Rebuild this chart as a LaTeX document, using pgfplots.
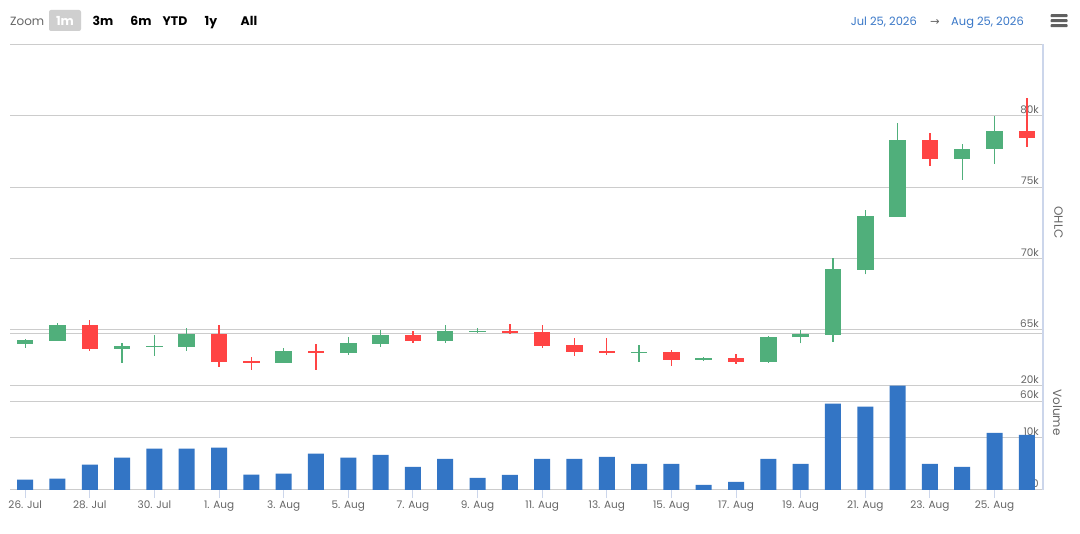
\documentclass[border=0pt]{standalone}
\usepackage{fontspec}
\setmainfont{Poppins}
\newfontfamily\dejavu{DejaVu Sans}
\usepackage{pgfplots}
\usepackage{pgfplotstable}
\pgfplotsset{compat=1.18}
\definecolor{upc}{HTML}{50AF7B}
\definecolor{dnc}{HTML}{FF4444}
\definecolor{volc}{HTML}{3375C5}
\definecolor{gridc}{HTML}{CCCCCC}
\definecolor{axc}{HTML}{CCD6EB}
\definecolor{txt}{HTML}{666666}
\definecolor{datec}{HTML}{3A78C8}
\definecolor{btn}{HTML}{CFCFCF}
\definecolor{menuc}{HTML}{606060}

\pgfplotstableread{
x open high low close
0 64040 64370 63760 64300
1 64250 65490 64250 65350
3 63690 64090 62710 63880
4 63830 64650 63200 63900
5 63830 65140 63550 64720
8 62710 63740 62710 63530
10 63410 64510 63270 64090
11 64040 65000 63830 64650
13 64250 65350 64110 64930
14 64860 65140 64790 64930
19 63410 63950 62780 63460
21 62920 63110 62850 63040
23 62780 64580 62710 64510
24 64480 64990 64060 64710
25 64660 70020 64170 69270
26 69220 73410 68900 72990
27 72940 79510 72940 78320
29 77000 78040 75530 77690
30 77710 80000 76660 78950
}\upt

\pgfplotstableread{
x open high low close
2 65350 65700 63550 63690
6 64720 65350 62430 62780
7 62830 63110 62220 62710
9 63530 64020 62220 63410
12 64650 64930 64110 64250
15 64930 65420 64720 64790
16 64860 65350 63760 63900
17 63950 64440 63200 63480
18 63530 64440 63270 63410
20 63460 63600 62500 62920
22 63040 63320 62640 62780
28 78320 78810 76510 77000
31 78950 81260 77850 78480
}\dnt

\pgfplotstableread{
x v
0 1980
1 2170
2 4870
3 6210
4 7940
5 7940
6 8130
7 2940
8 3130
9 6980
10 6180
11 6730
12 4420
13 5960
14 2310
15 2880
16 5960
17 5960
18 6350
19 5000
20 5000
21 960
22 1540
23 5960
24 5000
25 16540
26 15960
27 20000
28 5000
29 4420
30 10960
31 10580
}\volt

\pgfplotsset{
  common/.style={
    scale only axis, width=1033bp,
    xmin=-0.47, xmax=31.5,
    axis line style={draw=none},
    grid style={draw=gridc, line width=1bp},
    ytick style={draw=none},
    scaled y ticks=false,
    yticklabel pos=right,
    yticklabel style={anchor=base east, inner sep=0pt, xshift=-4bp, yshift=2.5bp,
      font=\fontsize{10.5}{12}\selectfont, text=txt},
  },
  wick/.style={forget plot, draw=none, no markers,
    error bars/.cd, y dir=plus, y explicit, error mark=none,
    error bar style={draw=#1, line width=1.3bp, solid}},
  body/.style={forget plot, draw=none, no markers,
    error bars/.cd, y dir=plus, y explicit, error mark=none,
    error bar style={draw=#1, line width=16.5bp, solid}},
}

\begin{document}
\begin{tikzpicture}
\fill[white] (0bp,0bp) rectangle (1080bp,534bp);

% volume grid + x axis
\begin{axis}[common, at={(10bp,44bp)}, anchor=south west, height=156.6bp,
  ymin=0, ymax=30000,
  ytick={0,10000,20000,30000}, yticklabels={}, ymajorgrids,
  xtick={0,2,...,30},
  xticklabels={26. Jul,28. Jul,30. Jul,1. Aug,3. Aug,5. Aug,7. Aug,9. Aug,11. Aug,13. Aug,15. Aug,17. Aug,19. Aug,21. Aug,23. Aug,25. Aug},
  xtick pos=lower, tick align=outside, major tick length=8bp,
  xtick style={draw=axc, line width=1bp},
  xticklabel style={font=\fontsize{10.5}{12}\selectfont, text=txt, inner sep=3bp},
]
\addplot[draw=none, no markers, forget plot] coordinates {(0,0)};
\end{axis}

% OHLC
\begin{axis}[common, at={(10bp,132.67bp)}, anchor=south west, height=356.67bp,
  ymin=60000, ymax=85000,
  ytick={60000,65000,70000,75000,80000,85000}, yticklabels={60k,65k,70k,75k,80k,{}}, ymajorgrids,
  xtick=\empty,
]
\addplot[wick=upc] table[x=x, y=low, y error expr=\thisrow{high}-\thisrow{low}] {\upt};
\addplot[wick=dnc] table[x=x, y=low, y error expr=\thisrow{high}-\thisrow{low}] {\dnt};
\addplot[body=upc] table[x=x, y=open, y error expr=\thisrow{close}-\thisrow{open}] {\upt};
\addplot[body=dnc] table[x=x, y=close, y error expr=\thisrow{open}-\thisrow{close}] {\dnt};
\end{axis}

% volume bars (tick labels drawn on top of the bars)
\begin{axis}[common, at={(10bp,44bp)}, anchor=south west, height=156.6bp,
  ymin=0, ymax=30000,
  ytick={0,10000,20000,30000}, yticklabels={0,10k,20k,{}},
  xtick=\empty]
\addplot[ybar, bar width=16bp, bar shift=0pt, fill=volc, draw=none]
  table[x=x, y=v] {\volt};
\end{axis}

% right axis line
\draw[axc, line width=2bp] (1043bp,44bp) -- (1043bp,489.5bp);

% axis titles
\node[rotate=-90, text=txt, font=\fontsize{12}{14}\selectfont] at (1058.5bp,311.5bp) {OHLC};
\node[rotate=-90, text=txt, font=\fontsize{12}{14}\selectfont] at (1057.5bp,121.5bp) {Volume};

% range selector
\node[anchor=base west, inner sep=0pt, text=txt, font=\fontsize{12}{14}\selectfont] at (10bp,508bp) {Zoom};
\fill[btn, rounded corners=2bp] (49bp,503bp) rectangle (81bp,524bp);
\node[anchor=base, inner sep=0pt, text=white, font=\fontsize{12.5}{14}\selectfont\bfseries] at (65bp,508bp) {1m};
\node[anchor=base, inner sep=0pt, text=black, font=\fontsize{12.5}{14}\selectfont\bfseries] at (103bp,508bp) {3m};
\node[anchor=base, inner sep=0pt, text=black, font=\fontsize{12.5}{14}\selectfont\bfseries] at (141bp,508bp) {6m};
\node[anchor=base, inner sep=0pt, text=black, font=\fontsize{12.5}{14}\selectfont\bfseries] at (175bp,508bp) {YTD};
\node[anchor=base, inner sep=0pt, text=black, font=\fontsize{12.5}{14}\selectfont\bfseries] at (211bp,508bp) {1y};
\node[anchor=base, inner sep=0pt, text=black, font=\fontsize{12.5}{14}\selectfont\bfseries] at (249bp,508bp) {All};

% date range
\node[anchor=base east, inner sep=0pt, text=datec, font=\fontsize{11.5}{14}\selectfont] at (917bp,508.5bp) {Jul 25, 2026};
\node[anchor=base, inner sep=0pt, text=txt, font=\fontsize{11.5}{14}\selectfont\dejavu] at (935bp,508.5bp) {→};
\node[anchor=base west, inner sep=0pt, text=datec, font=\fontsize{11.5}{14}\selectfont] at (951bp,508.5bp) {Aug 25, 2026};

% menu
\fill[menuc, rounded corners=0.8bp] (1050.5bp,516.8bp) rectangle (1067.5bp,519.8bp);
\fill[menuc, rounded corners=0.8bp] (1050.5bp,511.8bp) rectangle (1067.5bp,514.8bp);
\fill[menuc, rounded corners=0.8bp] (1050.5bp,506.8bp) rectangle (1067.5bp,509.8bp);

\pgfresetboundingbox
\path[use as bounding box] (0bp,0bp) rectangle (1080bp,534bp);
\end{tikzpicture}
\end{document}
